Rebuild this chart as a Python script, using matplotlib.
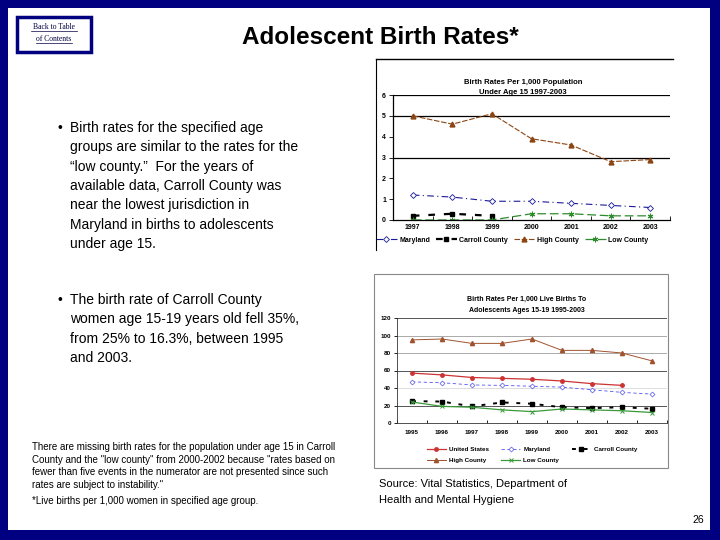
import numpy as np
import matplotlib
matplotlib.use('Agg')
import matplotlib.pyplot as plt
from matplotlib.lines import Line2D
from matplotlib.patches import Rectangle

plt.rcParams['font.family'] = ['Liberation Sans', 'DejaVu Sans']

# datos grafica 1: menores de 15
anios1 = ['1997', '1998', '1999', '2000', '2001', '2002', '2003']
maryland1 = [1.2, 1.1, 0.9, 0.9, 0.8, 0.7, 0.6]
carroll1 = [0.2, 0.3, 0.2, np.nan, np.nan, np.nan, np.nan]
high1 = [5.0, 4.6, 5.1, 3.9, 3.6, 2.8, 2.9]
low1 = [0.0, 0.0, 0.0, 0.3, 0.3, 0.2, 0.2]

# datos grafica 2: 15-19
anios2 = ['1995', '1996', '1997', '1998', '1999', '2000', '2001', '2002', '2003']
usa2 = [57, 55, 52, 51, 50, 48, 45, 43, np.nan]
maryland2 = [47, 46, 43.5, 43, 42, 41, 38, 35, 33]
carroll2 = [25, 24.5, 19, 23.5, 22, 18, 17, 18, 16.3]
high2 = [95, 96, 91, 91, 96, 83, 83, 80, 71]
low2 = [24, 19, 18, 15, 13, 16, 15, 14, 12]

W, H = 720, 540
fig = plt.figure(figsize=(7.2, 5.4), dpi=100)
navy = '#000080'


def px(x0, y0, x1, y1):
    # caja en pixeles -> coordenadas de figura
    return [x0 / W, 1 - y1 / H, (x1 - x0) / W, (y1 - y0) / H]


def linea(xs, ys, **kw):
    fig.add_artist(Line2D([x / W for x in xs], [1 - y / H for y in ys], **kw))


def texto(x, y, s, **kw):
    fig.text(x / W, 1 - y / H, s, **kw)


# marco azul
fig.patch.set_facecolor(navy)
fig.add_artist(Rectangle((8 / W, 1 - 530 / H), 702 / W, 522 / H, facecolor='white',
                         edgecolor='none', zorder=0))

# boton
fig.add_artist(Rectangle((17 / W, 1 - 52 / H), 74 / W, 35 / H, facecolor='white',
                         edgecolor=navy, linewidth=2.5))
texto(54, 27, 'Back to Table', ha='center', va='center', fontsize=5.5,
      family='Liberation Serif', color='#000040')
texto(54, 39, 'of Contents', ha='center', va='center', fontsize=5.5,
      family='Liberation Serif', color='#000040')
linea([31, 77], [31, 31], color='#000040', linewidth=0.5)
linea([36, 72], [43, 43], color='#000040', linewidth=0.5)

texto(380, 37, 'Adolescent Birth Rates*', ha='center', va='center', fontsize=17.5,
      fontweight='bold')

# textos de la izquierda
b1 = ['Birth rates for the specified age', 'groups are similar to the rates for the',
      '\u201clow county.\u201d  For the years of', 'available data, Carroll County was',
      'near the lowest jurisdiction in', 'Maryland in births to adolescents',
      'under age 15.']
for i, s in enumerate(b1):
    texto(70, 128 + i * 19.3, s, va='center', fontsize=10)
texto(57, 128, '\u2022', va='center', ha='left', fontsize=10)

b2 = ['The birth rate of Carroll County', 'women age 15-19 years old fell 35%,',
      'from 25% to 16.3%, between 1995', 'and 2003.']
for i, s in enumerate(b2):
    texto(70, 300 + i * 19.3, s, va='center', fontsize=10)
texto(57, 300, '\u2022', va='center', ha='left', fontsize=10)

nota = ['There are missing birth rates for the population under age 15 in Carroll',
        'County and the "low county" from 2000-2002 because "rates based on',
        'fewer than five events in the numerator are not presented since such',
        'rates are subject to instability."']
for i, s in enumerate(nota):
    texto(32, 447 + i * 12.6, s, va='center', fontsize=7)
texto(32, 501, '*Live births per 1,000 women in specified age group.', va='center',
      fontsize=7)

texto(379, 484, 'Source: Vital Statistics, Department of', va='center', fontsize=8)
texto(379, 500, 'Health and Mental Hygiene', va='center', fontsize=8)
texto(704, 520, '26', va='center', ha='right', fontsize=7.5)

# ---------------- grafica 1 ----------------
linea([376, 673], [59, 59], color='black', linewidth=1)
linea([376, 376], [59, 250], color='black', linewidth=0.8)
texto(523, 82, 'Birth Rates Per 1,000 Population', ha='center', va='center',
      fontsize=5.5, fontweight='bold')
texto(523, 92, 'Under Age 15 1997-2003', ha='center', va='center', fontsize=5.5,
      fontweight='bold')

ax1 = fig.add_axes(px(393, 95, 670, 220))
x1 = np.arange(len(anios1))
for g in [6, 5, 3]:
    ax1.axhline(g, color='black', linewidth=0.9, zorder=1)
ax1.plot(x1, maryland1, color='#1a1a99', linestyle=(0, (6, 3, 1, 3)), linewidth=0.8,
         marker='D', markersize=3, markerfacecolor='white', markeredgecolor='#1a1a99',
         markeredgewidth=0.6, label='Maryland')
ax1.plot(x1, carroll1, color='black', linestyle=(0, (3, 4)), linewidth=1.6,
         marker='s', markersize=3.5, label='Carroll County')
ax1.plot(x1, high1, color='#8b4513', linestyle=(0, (5, 1.5)), linewidth=0.8,
         marker='^', markersize=3.5, label='High County')
ax1.plot(x1, low1, color='#2e8b2e', linestyle=(0, (7, 3)), linewidth=0.9,
         marker=(6, 2, 0), markersize=4, markeredgewidth=0.8, label='Low County')
ax1.set_xlim(-0.5, len(anios1) - 0.5)
ax1.set_ylim(0, 6)
ax1.set_yticks(range(7))
ax1.set_yticklabels([str(v) for v in range(7)], fontsize=5, fontweight='bold')
ax1.set_xticks(x1)
ax1.set_xticklabels(anios1, fontsize=5, fontweight='bold')
ax1.set_xticks(np.arange(-0.5, len(anios1)), minor=True)
ax1.tick_params(axis='x', which='major', length=0, pad=3)
ax1.tick_params(axis='x', which='minor', length=3, width=0.6, direction='in')
ax1.tick_params(axis='y', length=3, width=0.6, pad=2)
for s in ['top', 'right']:
    ax1.spines[s].set_visible(False)
for s in ['left', 'bottom']:
    ax1.spines[s].set_linewidth(0.9)
ax1.patch.set_alpha(0)
ax1.legend(loc='upper center', bbox_to_anchor=(0.43, -0.11), ncol=4, frameon=False,
           prop={'size': 5, 'weight': 'bold'}, handlelength=3, columnspacing=0.8,
           handletextpad=0.4, borderaxespad=0)

# ---------------- grafica 2 ----------------
fig.add_artist(Rectangle((374 / W, 1 - 468 / H), 294 / W, 194 / H, facecolor='none',
                         edgecolor='#888888', linewidth=0.8))
texto(527, 299, 'Birth Rates Per 1,000 Live Births To', ha='center', va='center',
      fontsize=5, fontweight='bold')
texto(527, 310, 'Adolescents Ages 15-19 1995-2003', ha='center', va='center',
      fontsize=5, fontweight='bold')

ax2 = fig.add_axes(px(397, 318, 667, 423))
x2 = np.arange(len(anios2))
for g, c in [(120, '#555555'), (100, '#aaaaaa'), (80, '#aaaaaa'), (60, '#555555'),
             (40, '#dddddd'), (20, '#555555')]:
    ax2.axhline(g, color=c, linewidth=0.7, zorder=1)
l_us, = ax2.plot(x2, usa2, color='#cc3333', linewidth=0.9, marker='o', markersize=2.5,
                 label='United States')
l_md, = ax2.plot(x2, maryland2, color='#5555ee', linestyle=(0, (4, 3)), linewidth=0.6,
                 marker='D', markersize=2.5, markerfacecolor='white',
                 markeredgecolor='#5555ee', markeredgewidth=0.5, label='Maryland')
l_cc, = ax2.plot(x2, carroll2, color='black', linestyle=(0, (2, 4)), linewidth=1.4,
                 marker='s', markersize=3, label='Carroll County')
l_hi, = ax2.plot(x2, high2, color='#a0522d', linewidth=0.7, marker='^', markersize=3,
                 label='High County')
l_lo, = ax2.plot(x2, low2, color='#3a9a3a', linewidth=0.9, marker='x', markersize=3,
                 markeredgewidth=0.7, label='Low County')
ax2.set_xlim(-0.5, len(anios2) - 0.5)
ax2.set_ylim(0, 120)
ax2.set_yticks(range(0, 121, 20))
ax2.set_yticklabels([str(v) for v in range(0, 121, 20)], fontsize=4.5, fontweight='bold')
ax2.set_xticks(x2)
ax2.set_xticklabels(anios2, fontsize=4.5, fontweight='bold')
ax2.set_xticks(np.arange(-0.5, len(anios2)), minor=True)
ax2.tick_params(axis='x', which='major', length=0, pad=5)
ax2.tick_params(axis='x', which='minor', length=2.5, width=0.6, direction='in')
ax2.tick_params(axis='y', length=2.5, width=0.6, pad=2)
for s in ['top', 'right']:
    ax2.spines[s].set_visible(False)
for s in ['left', 'bottom']:
    ax2.spines[s].set_linewidth(0.6)
    ax2.spines[s].set_color('#333333')
ax2.patch.set_alpha(0)
# orden para que la primera fila sea US, Maryland, Carroll
ax2.legend([l_us, l_hi, l_md, l_lo, l_cc],
           ['United States', 'High County', 'Maryland', 'Low County', 'Carroll County'],
           loc='upper center', bbox_to_anchor=(0.5, -0.2), ncol=3, frameon=False,
           prop={'size': 4.5, 'weight': 'bold'}, handlelength=3, columnspacing=2,
           handletextpad=0.5, borderaxespad=0, labelspacing=0.9)

fig.savefig('out.png', dpi=100, facecolor=navy)
